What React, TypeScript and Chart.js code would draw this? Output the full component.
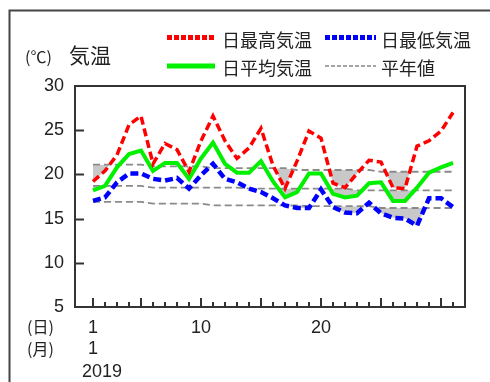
import React, { useEffect, useRef } from 'react';
import { Chart, registerables } from 'chart.js';

Chart.register(...registerables);

const days = [1, 2, 3, 4, 5, 6, 7, 8, 9, 10, 11, 12, 13, 14, 15, 16, 17, 18, 19, 20, 21, 22, 23, 24, 25, 26, 27, 28, 29, 30, 31];
const maxTemp = [19.2, 20.4, 22.2, 25.6, 26.6, 21.2, 23.5, 22.8, 20.3, 23.8, 26.6, 23.8, 21.8, 23.0, 25.2, 21.0, 18.4, 21.5, 24.9, 24.1, 19.0, 18.5, 20.1, 21.6, 21.4, 18.5, 18.4, 23.2, 23.8, 24.9, 27.0];
const meanTemp = [18.2, 18.7, 20.8, 22.3, 22.7, 20.4, 21.3, 21.3, 19.5, 21.8, 23.6, 21.2, 20.2, 20.2, 21.5, 19.2, 17.4, 18.0, 20.1, 20.1, 17.8, 17.4, 17.6, 19.0, 19.1, 17.0, 17.0, 18.5, 20.2, 20.8, 21.3];
const minTemp = [17.0, 17.4, 19.1, 20.1, 20.1, 19.5, 19.3, 19.6, 18.4, 19.9, 21.2, 19.5, 19.1, 18.4, 18.0, 17.3, 16.5, 16.2, 16.2, 18.3, 16.3, 15.7, 15.6, 16.8, 15.6, 15.1, 15.0, 14.2, 17.3, 17.3, 16.3];
const normMax = [21.1, 21.1, 21.1, 21.1, 21.1, 20.9, 20.9, 20.9, 20.9, 20.9, 20.7, 20.7, 20.7, 20.7, 20.7, 20.7, 20.7, 20.5, 20.5, 20.5, 20.5, 20.5, 20.5, 20.5, 20.3, 20.3, 20.3, 20.3, 20.3, 20.3, 20.3];
const normMean = [18.7, 18.7, 18.7, 18.7, 18.7, 18.5, 18.5, 18.5, 18.5, 18.5, 18.5, 18.5, 18.5, 18.4, 18.4, 18.4, 18.4, 18.4, 18.4, 18.4, 18.4, 18.4, 18.2, 18.2, 18.2, 18.2, 18.2, 18.2, 18.2, 18.2, 18.2];
const normMin = [16.9, 16.9, 16.9, 16.9, 16.9, 16.7, 16.7, 16.7, 16.7, 16.7, 16.5, 16.5, 16.5, 16.5, 16.5, 16.5, 16.5, 16.5, 16.4, 16.4, 16.4, 16.4, 16.4, 16.4, 16.2, 16.2, 16.2, 16.2, 16.2, 16.2, 16.2];
const yTicks = [5, 10, 15, 20, 25, 30];
const xTickLabels = [1, 10, 20];
const legendLabels = ['日最高気温', '日最低気温', '日平均気温', '平年値'];
const axisTitle = '気温';
const unitLabel = '(℃)';
const dayLabel = '(日)';
const monthLabel = '(月)';
const monthValue = '1';
const yearValue = '2019';

const JP = '"Noto Sans CJK JP", "Noto Sans", sans-serif';
const NUM = '"Liberation Sans", Arial, sans-serif';
const TXT = '#222';

const pts = (arr: number[]) => arr.map((v, i) => ({ x: days[i], y: v }));

const decor = {
  id: 'decor',
  beforeDraw(chart: any) {
    const ctx = chart.ctx;
    ctx.save();
    ctx.fillStyle = '#fff';
    ctx.fillRect(0, 0, chart.width, chart.height);
    ctx.restore();
  },
  afterDraw(chart: any) {
    const ctx = chart.ctx;
    const { left, top, right, bottom } = chart.chartArea;
    const xs = chart.scales.x;
    const ys = chart.scales.y;
    ctx.save();
    // outer frame
    ctx.strokeStyle = '#444';
    ctx.lineWidth = 2;
    ctx.beginPath();
    ctx.moveTo(9.5, chart.height);
    ctx.lineTo(9.5, 10.5);
    ctx.lineTo(chart.width, 10.5);
    ctx.stroke();
    // plot box
    ctx.strokeStyle = '#333';
    ctx.lineWidth = 2;
    ctx.strokeRect(left, top, right - left, bottom - top);
    // y ticks inward
    yTicks.forEach((v) => {
      if (v === yTicks[0] || v === yTicks[yTicks.length - 1]) return;
      const py = Math.round(ys.getPixelForValue(v)) + 0.5;
      ctx.beginPath();
      ctx.moveTo(left, py);
      ctx.lineTo(left + 9, py);
      ctx.stroke();
    });
    // x ticks inward
    days.forEach((d) => {
      const px = Math.round(xs.getPixelForValue(d));
      const len = d === 1 || d % 5 === 0 ? 9 : 5;
      ctx.beginPath();
      ctx.moveTo(px, bottom);
      ctx.lineTo(px, bottom - len);
      ctx.stroke();
    });
    // title
    ctx.fillStyle = TXT;
    ctx.textBaseline = 'middle';
    ctx.textAlign = 'left';
    ctx.font = `16px ${JP}`;
    ctx.fillText(unitLabel, 25, 57);
    ctx.font = `21px ${JP}`;
    ctx.fillText(axisTitle, 69, 55);
    // legend
    const seg = (x0: number, x1: number, y: number, color: string, w: number, dash: number[]) => {
      ctx.save();
      ctx.strokeStyle = color;
      ctx.lineWidth = w;
      ctx.lineCap = 'butt';
      ctx.setLineDash(dash);
      ctx.beginPath();
      ctx.moveTo(x0, y);
      ctx.lineTo(x1, y);
      ctx.stroke();
      ctx.restore();
    };
    seg(167, 216, 37.5, '#ff0000', 5, [5, 2]);
    seg(325, 376, 37.5, '#0000ff', 5, [5, 2]);
    seg(167, 215, 66, '#00f000', 5, []);
    seg(325, 376, 66, '#888', 1.5, [4, 2]);
    ctx.font = `18px ${JP}`;
    ctx.fillStyle = TXT;
    ctx.fillText(legendLabels[0], 222, 40);
    ctx.fillText(legendLabels[1], 381, 40);
    ctx.fillText(legendLabels[2], 222, 68);
    ctx.fillText(legendLabels[3], 381, 68);
    // bottom labels
    ctx.font = `16px ${JP}`;
    ctx.fillText(dayLabel, 27, 327);
    ctx.fillText(monthLabel, 27, 349);
    ctx.font = `18px ${NUM}`;
    ctx.textAlign = 'center';
    ctx.fillText(monthValue, xs.getPixelForValue(days[0]), 349);
    ctx.textAlign = 'left';
    ctx.fillText(yearValue, 82, 372);
    ctx.restore();
  },
};

export default function App() {
  const ref = useRef<HTMLCanvasElement>(null);
  useEffect(() => {
    if (!ref.current) return;
    const gray = '#8a8a8a';
    const fillGray = 'rgba(200,200,200,1)';
    const chart = new Chart(ref.current, {
      type: 'line',
      data: {
        datasets: [
          { label: legendLabels[0], data: pts(maxTemp), borderColor: '#ff0000', borderWidth: 3.5, borderDash: [8, 4], pointRadius: 0, fill: { target: 3, above: 'rgba(0,0,0,0)', below: fillGray } },
          { label: legendLabels[1], data: pts(minTemp), borderColor: '#0000ff', borderWidth: 4.5, borderDash: [8, 4], pointRadius: 0, fill: { target: 5, above: 'rgba(0,0,0,0)', below: fillGray } },
          { label: legendLabels[2], data: pts(meanTemp), borderColor: '#00f000', borderWidth: 4, pointRadius: 0, fill: { target: 4, above: 'rgba(0,0,0,0)', below: fillGray } },
          { label: legendLabels[3], data: pts(normMax), borderColor: gray, borderWidth: 1.8, borderDash: [7, 4], pointRadius: 0, fill: false },
          { label: legendLabels[3], data: pts(normMean), borderColor: gray, borderWidth: 1.8, borderDash: [7, 4], pointRadius: 0, fill: false },
          { label: legendLabels[3], data: pts(normMin), borderColor: gray, borderWidth: 1.8, borderDash: [7, 4], pointRadius: 0, fill: false },
        ],
      },
      options: {
        responsive: false,
        animation: false,
        events: [],
        layout: { padding: { top: 86, right: 25, left: 0, bottom: 0 } },
        plugins: {
          legend: { display: false },
          tooltip: { enabled: false },
          filler: { drawTime: 'beforeDatasetsDraw' },
        },
        scales: {
          x: {
            type: 'linear',
            min: -0.5,
            max: 32,
            grid: { display: false, drawTicks: false },
            border: { display: false },
            afterBuildTicks: (s: any) => { s.ticks = xTickLabels.map((v) => ({ value: v })); },
            afterFit: (s: any) => { s.height = 75; },
            ticks: { color: TXT, font: { family: NUM, size: 18 }, padding: 10, maxRotation: 0, autoSkip: false, callback: (v: any) => String(v) },
          },
          y: {
            min: 5,
            max: 30,
            grid: { display: false, drawTicks: false },
            border: { display: false },
            afterBuildTicks: (s: any) => { s.ticks = yTicks.map((v) => ({ value: v })); },
            afterFit: (s: any) => { s.width = 75; },
            ticks: { color: TXT, font: { family: NUM, size: 18 }, padding: 11, autoSkip: false, callback: (v: any) => String(v) },
          },
        },
      },
      plugins: [decor],
    } as any);
    return () => chart.destroy();
  }, []);
  return (
    <div style={{ position: 'absolute', left: 0, top: 0, width: 490, height: 382 }}>
      <canvas ref={ref} width={490} height={382} style={{ width: 490, height: 382, display: 'block' }} />
    </div>
  );
}
